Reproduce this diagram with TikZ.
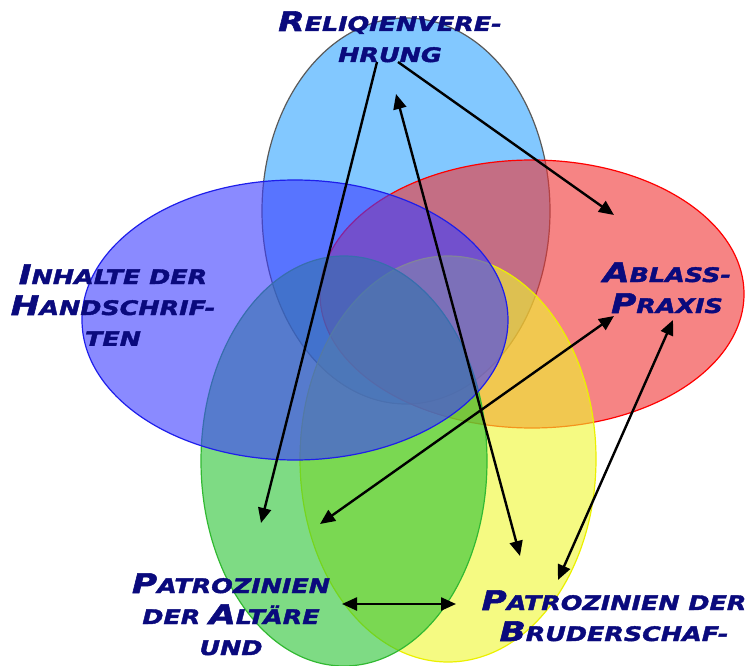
\documentclass[tikz,border=0pt]{standalone}
\usepackage{fontspec}
\newfontfamily\cfont[FakeStretch=1.27, FakeBold=2, BoldFont={DejaVu Sans Bold}, BoldItalicFont={DejaVu Sans Bold Oblique}]{DejaVu Sans}
\usetikzlibrary{arrows.meta}
\newcommand{\bl}[1]{{\fontsize{27}{31}\selectfont #1}}
\definecolor{navy}{RGB}{10,10,125}
\definecolor{cblue}{RGB}{130,200,255}
\definecolor{cred}{RGB}{240,50,50}
\definecolor{cpurp}{RGB}{60,60,255}
\definecolor{cgreen}{RGB}{40,195,50}
\definecolor{cyell}{RGB}{238,247,47}
\tikzset{
  lbl/.style={text=navy, align=center, inner sep=0pt, anchor=base,
    font=\cfont\bfseries\itshape\fontsize{20}{31}\selectfont},
  arr/.style={line width=2.4pt, -{Triangle[length=15pt,width=13pt]}},
  darr/.style={line width=2.4pt, {Triangle[length=15pt,width=13pt]}-{Triangle[length=15pt,width=13pt]}},
  ell/.style={line width=1.2pt}
}
\begin{document}
\begin{tikzpicture}[x=1pt,y=-1pt]
\useasboundingbox (0,0) rectangle (753,666);
% ellipses
\fill[cblue] (406,211) ellipse [x radius=144, y radius=193];
\draw[ell, draw={rgb,255:red,90;green,90;blue,90}] (406,211) ellipse [x radius=144, y radius=193];
\path[ell, fill=cred, fill opacity=0.6, draw=red] (532,294) ellipse [x radius=212, y radius=134];
\path[ell, fill=cyell, fill opacity=0.6, draw={rgb,255:red,235;green,240;blue,0}] (448,459) ellipse [x radius=148, y radius=203];
\path[ell, fill=cgreen, fill opacity=0.6, draw={rgb,255:red,50;green,185;blue,50}] (344,461) ellipse [x radius=143, y radius=205];
\path[ell, fill=cpurp, fill opacity=0.6, draw={rgb,255:red,30;green,30;blue,235}] (295,320) ellipse [x radius=213, y radius=140];
% labels
\node[lbl] (rel) at (390,62) {\bl{R}ELIQIENVERE-\\HRUNG};
\begin{scope}
\clip (0,0) rectangle (753,345);
\node[lbl] (inh) at (113,346) {\bl{I}NHALTE DER\\\bl{H}ANDSCHRIF-\\TEN};
\end{scope}
\node[lbl] (abl) at (667,313) {\bl{A}BLASS-\\\bl{P}RAXIS};
\node[lbl] (pal) at (231,655) {\bl{P}ATROZINIEN\\DER \bl{A}LTÄRE\\UND};
\node[lbl] (pbr) at (614,641) {\bl{P}ATROZINIEN DER\\\bl{B}RUDERSCHAF-};
% arrow end points
\coordinate (a1s) at (377,62); \coordinate (a1e) at (261,523);
\coordinate (a2s) at (398,62); \coordinate (a2e) at (614,215);
\coordinate (a3s) at (396,94); \coordinate (a3e) at (520,556);
\coordinate (a4s) at (614,316); \coordinate (a4e) at (320,524);
\coordinate (a5s) at (673,320); \coordinate (a5e) at (558,580);
\coordinate (a6s) at (342,604); \coordinate (a6e) at (456,604);
\draw[arr] (a1s) -- (a1e);
\draw[arr] (a2s) -- (a2e);
\draw[darr] (a3s) -- (a3e);
\draw[darr] (a4s) -- (a4e);
\draw[darr] (a5s) -- (a5e);
\draw[darr] (a6s) -- (a6e);
\end{tikzpicture}
\end{document}
